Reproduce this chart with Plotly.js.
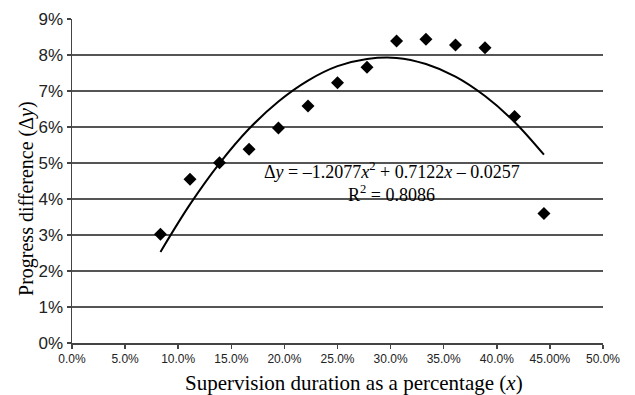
<!DOCTYPE html>
<html>
<head>
<meta charset="utf-8">
<script src="https://cdn.plot.ly/plotly-3.0.1.min.js"></script>
<style>html,body{margin:0;padding:0;background:#fff;}#chart{width:635px;height:395px;}</style>
</head>
<body>
<div id="chart"></div>
<script>
// Observed data points (supervision share x, progress difference Δy)
var supervisionX = [0.0833, 0.1111, 0.1389, 0.1667, 0.1944, 0.2222, 0.2500, 0.2778, 0.3056, 0.3333, 0.3611, 0.3889, 0.4167, 0.4444];
var progressY    = [0.0302, 0.0455, 0.0501, 0.0538, 0.0597, 0.0658, 0.0723, 0.0766, 0.0839, 0.0844, 0.0828, 0.0820, 0.0629, 0.0360];

// Polynomial trendline values as drawn in the chart
var trendX = [0.0833, 0.1111, 0.1389, 0.1667, 0.1944, 0.2222, 0.2500, 0.2778, 0.3056, 0.3333, 0.3611, 0.3889, 0.4167, 0.4444];
var trendY = [0.0253, 0.0385, 0.0499, 0.0595, 0.0671, 0.0729, 0.0769, 0.0789, 0.0792, 0.0775, 0.0740, 0.0686, 0.0614, 0.0523];

// Axis tick labels
var xTickVals  = [0, 0.05, 0.10, 0.15, 0.20, 0.25, 0.30, 0.35, 0.40, 0.45, 0.50];
var xTickText  = ["0.0%", "5.0%", "10.0%", "15.0%", "20.0%", "25.0%", "30.0%", "35.0%", "40.0%", "45.00%", "50.0%"];
var yTickVals  = [0, 0.01, 0.02, 0.03, 0.04, 0.05, 0.06, 0.07, 0.08, 0.09];
var yTickText  = ["0%", "1%", "2%", "3%", "4%", "5%", "6%", "7%", "8%", "9%"];

var xTitleText = "Supervision duration as a percentage (<i>x</i>)";
var yTitleText = "Progress difference (Δ<i>y</i>)";
var equationText = "Δ<i>y</i> = –1.2077<i>x</i><sup>2</sup> + 0.7122<i>x</i> – 0.0257";
var r2Text = "R<sup>2</sup> = 0.8086";

var serif = "Liberation Serif, Times New Roman, serif";

var traces = [
  {
    x: trendX, y: trendY, type: "scatter", mode: "lines",
    line: {color: "#000", width: 2, shape: "spline", smoothing: 1},
    hoverinfo: "skip", showlegend: false
  },
  {
    x: supervisionX, y: progressY, type: "scatter", mode: "markers",
    marker: {symbol: "diamond", size: 10, color: "#000"},
    showlegend: false
  }
];

var layout = {
  width: 635, height: 395,
  margin: {l: 72, r: 32, t: 19, b: 52},
  paper_bgcolor: "#fff", plot_bgcolor: "#fff",
  showlegend: false,
  xaxis: {
    range: [0, 0.5],
    tickvals: xTickVals, ticktext: xTickText,
    ticks: "outside", ticklen: 4, tickcolor: "#444", tickwidth: 1.5,
    showline: true, linecolor: "#444", linewidth: 1.5,
    showgrid: false, zeroline: false,
    tickfont: {family: "Liberation Sans, Arial, sans-serif", size: 12, color: "#222"}
  },
  yaxis: {
    range: [0, 0.09],
    tickvals: yTickVals, ticktext: yTickText,
    ticks: "outside", ticklen: 4, tickcolor: "#444", tickwidth: 1.5,
    showline: true, linecolor: "#444", linewidth: 1.5,
    showgrid: true, gridcolor: "#555", gridwidth: 1.4,
    zeroline: false,
    tickfont: {family: "Liberation Sans, Arial, sans-serif", size: 17, color: "#222"}
  },
  annotations: [
    {
      xref: "paper", yref: "paper", x: 0.531, y: -0.123,
      text: xTitleText, showarrow: false,
      xanchor: "center", yanchor: "middle",
      font: {family: serif, size: 21, color: "#000"}
    },
    {
      xref: "paper", yref: "paper", x: -0.087, y: 0.447,
      text: yTitleText, showarrow: false, textangle: -90,
      xanchor: "center", yanchor: "middle",
      font: {family: serif, size: 20, color: "#000"}
    },
    {
      xref: "paper", yref: "paper", x: 0.602, y: 0.533,
      text: equationText, showarrow: false,
      xanchor: "center", yanchor: "middle",
      font: {family: serif, size: 18, color: "#000"}
    },
    {
      xref: "paper", yref: "paper", x: 0.602, y: 0.46,
      text: r2Text, showarrow: false,
      xanchor: "center", yanchor: "middle",
      font: {family: serif, size: 18, color: "#000"}
    }
  ]
};

Plotly.newPlot("chart", traces, layout, {staticPlot: true, displayModeBar: false});
</script>
</body>
</html>
